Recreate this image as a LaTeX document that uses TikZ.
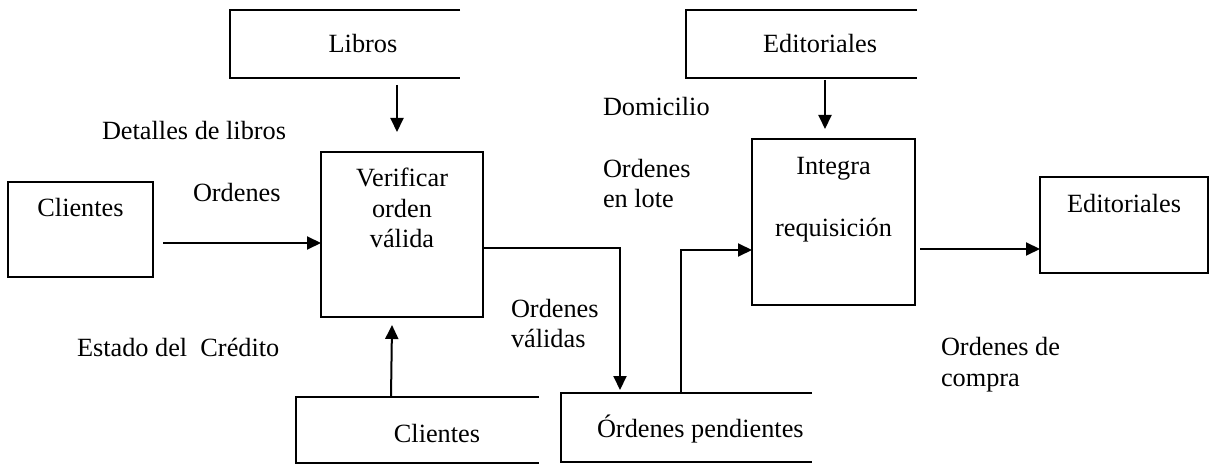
\documentclass[tikz,border=0pt]{standalone}
\usepackage{fontspec}
\setmainfont{Liberation Serif}
\usetikzlibrary{arrows.meta,calc}
\begin{document}
\begin{tikzpicture}[x=1pt,y=-1pt,line width=2pt,
  every node/.style={font=\fontsize{26.3}{30.5}\selectfont,inner sep=0pt,outer sep=0pt},
  box/.style={draw,rectangle},
  storebox/.style={rectangle,draw=none},
  lbl/.style={anchor=base west,align=left},
  ttl/.style={anchor=base},
  arr/.style={-{Triangle[length=14pt,width=13pt]}}]
\useasboundingbox (0,0) rectangle (1211,465);
% processes and entities
\node[box,minimum width=145pt,minimum height=95pt] (cli) at (80.5,229.5) {};
\node[box,minimum width=162pt,minimum height=165pt] (ver) at (402,234.5) {};
\node[box,minimum width=163pt,minimum height=166pt] (integ) at (833.5,222) {};
\node[box,minimum width=168pt,minimum height=96pt] (edr) at (1124,225) {};
% data stores (open on the right)
\node[storebox,minimum width=230pt,minimum height=68pt] (libros) at (345,44) {};
\node[storebox,minimum width=231pt,minimum height=68pt] (edt) at (801.5,44) {};
\node[storebox,minimum width=243pt,minimum height=66pt] (clis) at (417.5,430) {};
\node[storebox,minimum width=251pt,minimum height=69pt] (pend) at (686.5,427.5) {};
\foreach \s in {libros,edt,clis,pend}
  \draw (\s.north east) -- (\s.north west) -- (\s.south west) -- (\s.south east);
% texts in shapes (base anchor of a multi-line node = last line)
\node[ttl] at (363,53) {Libros};
\node[ttl] at (820,53) {Editoriales};
\node[ttl] at (80.5,217) {Clientes};
\node[ttl,align=center] at (402,248) {Verificar\\orden\\válida};
\node[ttl] at (833.5,175) {Integra};
\node[ttl] at (833.5,237) {requisición};
\node[ttl] at (1124,213) {Editoriales};
\node[ttl] at (437,442) {Clientes};
\node[lbl] at (597,437) {Órdenes pendientes};
% flow labels
\node[lbl] at (102,140) {Detalles de libros};
\node[lbl] at (193,202) {Ordenes};
\node[lbl] at (77,356) {Estado del\ \ Crédito};
\node[lbl] at (511,348) {Ordenes\\válidas};
\node[lbl] at (603,116) {Domicilio};
\node[lbl] at (603,208) {Ordenes\\en lote};
\node[lbl] at (941,386) {Ordenes de\\compra};
% connectors
\draw[arr] ($(libros.south)+(52,7)$) -- ($(ver.north)+(-5,-20)$);
\draw[arr] ($(edt.south)+(23.5,2)$) -- ($(integ.north)+(-8.5,-10)$);
\draw[arr] ($(cli.east)+(10,13.5)$) -- ($(ver.west)+(0,8.5)$);
\draw[arr] ($(ver.east)+(0,13.5)$) -| ($(pend.north west)+(59,-3)$);
\draw[arr] ($(clis.north west)+(95,0)$) -- ($(ver.south)+(-10,8)$);
\draw[arr] ($(pend.north west)+(120,0)$) |- ($(integ.west)+(0,28)$);
\draw[arr] ($(integ.east)+(5,27)$) -- ($(edr.west)+(0,24)$);
\end{tikzpicture}
\end{document}
